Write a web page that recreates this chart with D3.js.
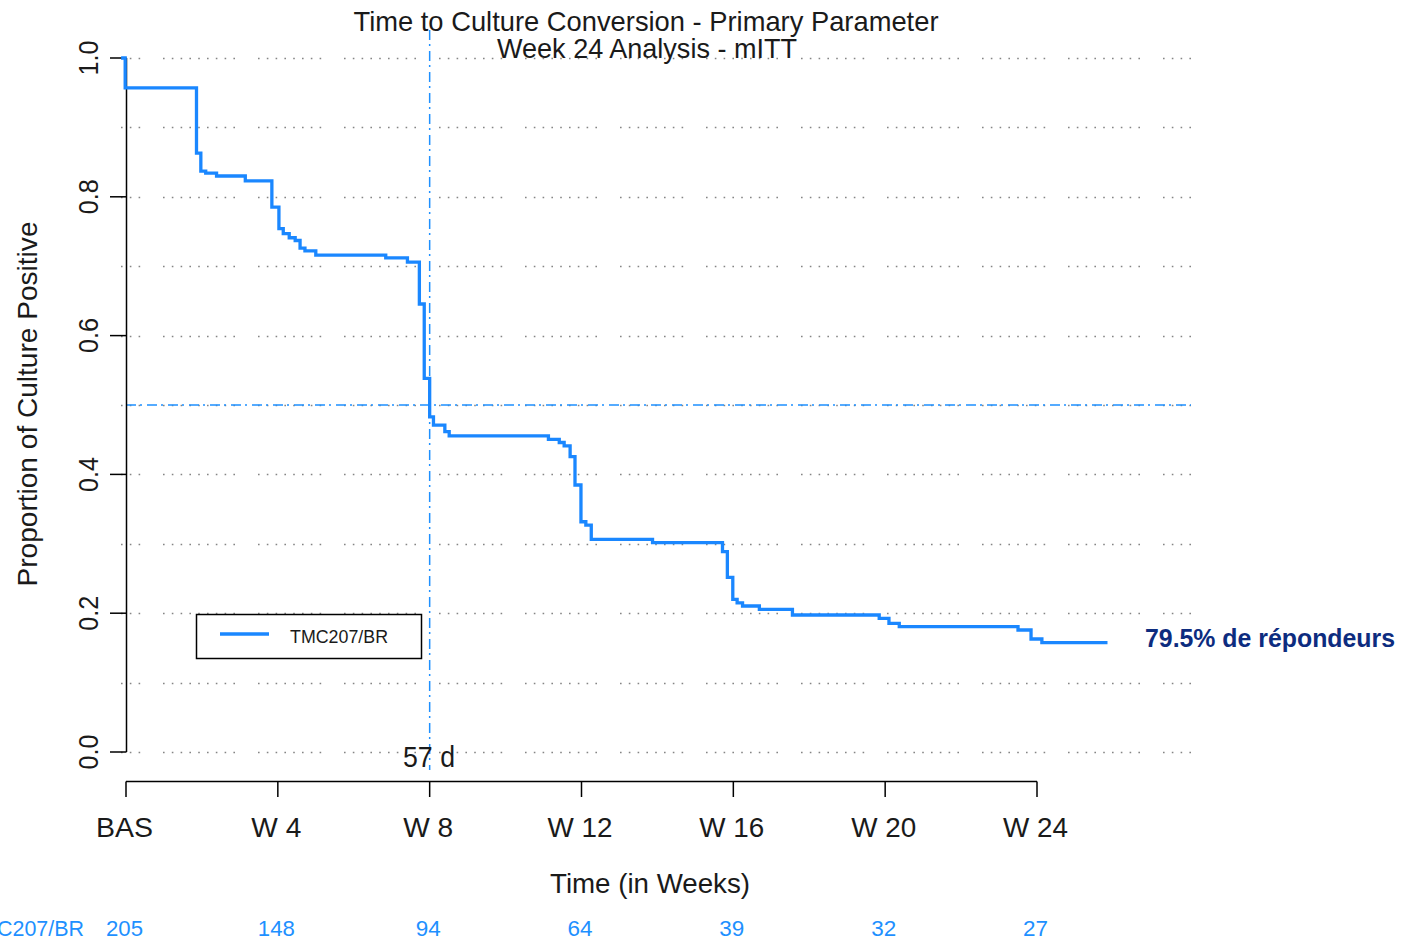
<!DOCTYPE html>
<html>
<head>
<meta charset="utf-8">
<script src="https://cdn.jsdelivr.net/npm/d3@7"></script>
<style>
  html, body { margin: 0; padding: 0; background: #fff; }
  svg { display: block; font-family: "Liberation Sans", Arial, sans-serif; }
</style>
</head>
<body>
<svg id="chart" width="1406" height="941"></svg>
<script>
// ---------------- data ----------------
const titleLines = ["Time to Culture Conversion - Primary Parameter", "Week 24 Analysis - mITT"];
const xTickDays = [1, 29, 57, 85, 113, 141, 169];
const xTickLabels = ["BAS", "W 4", "W 8", "W 12", "W 16", "W 20", "W 24"];
const yTicks = [0, 0.2, 0.4, 0.6, 0.8, 1.0];
const yTickLabels = ["0.0", "0.2", "0.4", "0.6", "0.8", "1.0"];
const gridValues = [0, 0.1, 0.2, 0.3, 0.4, 0.5, 0.6, 0.7, 0.8, 0.9, 1.0];
const seriesName = "TMC207/BR";
const atRisk = [205, 148, 94, 64, 39, 32, 27];
const medianDay = 57;
const medianLabel = "57 d";
const refProportion = 0.5;
const annotation = "79.5% de répondeurs";
const xLabel = "Time (in Weeks)";
const yLabel = "Proportion of Culture Positive";

// Kaplan-Meier step function: day at which the curve steps, and the proportion after the step
const stepDays = [0.1, 0.85, 14.0, 14.8, 15.7, 17.7, 23.0, 27.9, 29.2, 30.0, 31.1, 32.2, 33.1, 34.0, 36.0,
  48.9, 52.9, 55.1, 56.0, 57.0, 57.7, 59.8, 60.6, 78.9, 80.9, 81.8, 82.9, 83.8, 84.9, 85.8, 86.8,
  98.1, 111.0, 111.9, 112.9, 113.7, 114.7, 117.8, 123.9, 139.9, 141.7, 143.6, 165.5, 167.9, 169.9, 182.0];
const stepSurv = [1.0, 0.957, 0.863, 0.837, 0.834, 0.830, 0.823, 0.785, 0.754, 0.747, 0.741, 0.737, 0.726, 0.722, 0.716,
  0.712, 0.706, 0.6455, 0.5385, 0.483, 0.471, 0.4615, 0.4556, 0.4505, 0.446, 0.441, 0.4255, 0.3847, 0.3318, 0.327, 0.3064,
  0.3016, 0.2886, 0.2517, 0.22, 0.215, 0.2104, 0.2056, 0.1974, 0.1926, 0.1854, 0.1806, 0.1758, 0.1628, 0.1575, 0.1575];

// ---------------- drawing ----------------
const svg = d3.select("#chart");
const curveColor = "#1a87ff";
const refColor = "#1e90ff";
const textColor = "#1a1a1a";

const x = d3.scaleLinear().domain([1, 169]).range([126, 1037]);
const y = d3.scaleLinear().domain([0, 1]).range([752, 58]);

// dotted grid (groups of dots as in the original device output)
const d0 = 1.6, sp = 8.8;
let dash = [];
for (let i = 0; i < 7; i++) dash.push(d0, sp - d0);
dash.push(d0, 24.4 - d0);
for (let i = 0; i < 8; i++) dash.push(d0, sp - d0);
dash.push(d0, 24.6 - d0);
const gridX0 = 121, gridX1 = 1191;
svg.append("g").selectAll("line").data(gridValues).join("line")
  .attr("x1", gridX0).attr("x2", gridX1)
  .attr("y1", d => Math.round(y(d)) + 0.5).attr("y2", d => Math.round(y(d)) + 0.5)
  .attr("stroke", "#858585").attr("stroke-width", 1.7)
  .attr("stroke-dasharray", dash.join(" ")).attr("stroke-dashoffset", 44);

// reference lines (dot-dash)
svg.append("line")
  .attr("x1", x(1)).attr("x2", gridX1)
  .attr("y1", y(refProportion)).attr("y2", y(refProportion))
  .attr("stroke", refColor).attr("stroke-width", 1.5)
  .attr("stroke-dasharray", "10 4 2 5");
svg.append("line")
  .attr("x1", x(medianDay)).attr("x2", x(medianDay))
  .attr("y1", 30).attr("y2", 770)
  .attr("stroke", refColor).attr("stroke-width", 1.5)
  .attr("stroke-dasharray", "10 4 2 5");

// y axis
const yAxisG = svg.append("g");
yAxisG.append("line").attr("x1", 126.5).attr("x2", 126.5).attr("y1", y(1)).attr("y2", y(0))
  .attr("stroke", "#000").attr("stroke-width", 1.5);
yAxisG.selectAll("line.tick").data(yTicks).join("line").attr("class", "tick")
  .attr("x1", 110).attr("x2", 126.5).attr("y1", d => y(d)).attr("y2", d => y(d))
  .attr("stroke", "#000").attr("stroke-width", 1.5);
yAxisG.selectAll("text").data(yTicks).join("text")
  .attr("transform", d => `translate(98,${y(d)}) rotate(-90)`)
  .attr("text-anchor", "middle")
  .attr("font-size", 28).attr("fill", textColor)
  .attr("textLength", 35).attr("lengthAdjust", "spacingAndGlyphs")
  .text((d, i) => yTickLabels[i]);

// x axis
const xAxisG = svg.append("g");
xAxisG.append("line").attr("x1", x(1)).attr("x2", x(169)).attr("y1", 781.5).attr("y2", 781.5)
  .attr("stroke", "#000").attr("stroke-width", 1.5);
xAxisG.selectAll("line.tick").data(xTickDays).join("line").attr("class", "tick")
  .attr("x1", d => x(d)).attr("x2", d => x(d)).attr("y1", 781.5).attr("y2", 797)
  .attr("stroke", "#000").attr("stroke-width", 1.5);
xAxisG.selectAll("text").data(xTickDays).join("text")
  .attr("x", d => x(d) - 1.5).attr("y", 837)
  .attr("text-anchor", "middle")
  .attr("font-size", 28).attr("fill", textColor)
  .attr("textLength", (d, i) => i === 0 ? 57 : (xTickLabels[i].length === 3 ? 50 : 65))
  .attr("lengthAdjust", "spacingAndGlyphs")
  .text((d, i) => xTickLabels[i]);

// survival curve
const pts = stepDays.map((d, i) => [d, stepSurv[i]]);
svg.append("path")
  .datum(pts)
  .attr("d", d3.line().x(d => x(d[0])).y(d => y(d[1])).curve(d3.curveStepAfter))
  .attr("fill", "none").attr("stroke", curveColor).attr("stroke-width", 3.3);

// titles
svg.append("text").attr("x", 646).attr("y", 31).attr("text-anchor", "middle")
  .attr("font-size", 28).attr("fill", textColor)
  .attr("textLength", 585).attr("lengthAdjust", "spacingAndGlyphs").text(titleLines[0]);
svg.append("text").attr("x", 647).attr("y", 58).attr("text-anchor", "middle")
  .attr("font-size", 28).attr("fill", textColor)
  .attr("textLength", 300).attr("lengthAdjust", "spacingAndGlyphs").text(titleLines[1]);

// axis titles
svg.append("text").attr("x", 650).attr("y", 893).attr("text-anchor", "middle")
  .attr("font-size", 28).attr("fill", textColor)
  .attr("textLength", 200).attr("lengthAdjust", "spacingAndGlyphs").text(xLabel);
svg.append("text").attr("transform", "translate(37,404) rotate(-90)").attr("text-anchor", "middle")
  .attr("font-size", 28).attr("fill", textColor)
  .attr("textLength", 365).attr("lengthAdjust", "spacingAndGlyphs").text(yLabel);

// median label
svg.append("text").attr("x", 403).attr("y", 767)
  .attr("font-size", 29).attr("fill", textColor)
  .attr("textLength", 52).attr("lengthAdjust", "spacingAndGlyphs").text(medianLabel);

// legend
const lg = svg.append("g");
lg.append("rect").attr("x", 196.5).attr("y", 614.5).attr("width", 225).attr("height", 44)
  .attr("fill", "#fff").attr("stroke", "#000").attr("stroke-width", 1.5);
lg.append("line").attr("x1", 220).attr("x2", 269).attr("y1", 634).attr("y2", 634)
  .attr("stroke", curveColor).attr("stroke-width", 3.3);
lg.append("text").attr("x", 290).attr("y", 643)
  .attr("font-size", 19).attr("fill", textColor)
  .attr("textLength", 98).attr("lengthAdjust", "spacingAndGlyphs").text(seriesName);

// number at risk
svg.append("text").attr("x", 84).attr("y", 936).attr("text-anchor", "end")
  .attr("font-size", 22).attr("fill", refColor)
  .attr("textLength", 118).attr("lengthAdjust", "spacingAndGlyphs").text(seriesName);
svg.append("g").selectAll("text").data(atRisk).join("text")
  .attr("x", (d, i) => x(xTickDays[i]) - 1.5).attr("y", 936)
  .attr("text-anchor", "middle")
  .attr("font-size", 22).attr("fill", refColor)
  .attr("textLength", d => String(d).length === 3 ? 37 : 25).attr("lengthAdjust", "spacingAndGlyphs")
  .text(d => d);

// annotation
svg.append("text").attr("x", 1145).attr("y", 647)
  .attr("font-size", 26).attr("font-weight", "bold").attr("fill", "#0d2c7f")
  .attr("textLength", 250).attr("lengthAdjust", "spacingAndGlyphs").text(annotation);
</script>
</body>
</html>
